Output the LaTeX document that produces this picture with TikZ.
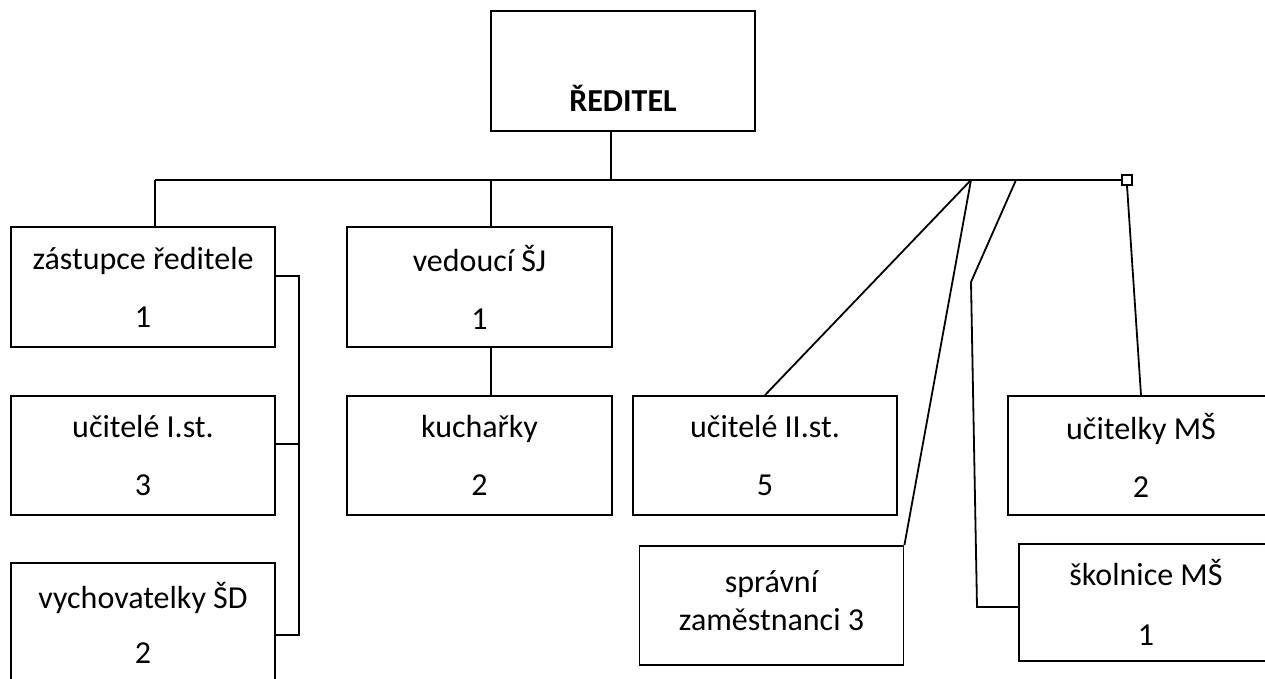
\documentclass[tikz,border=0pt]{standalone}
\usepackage{fontspec}
\setmainfont{Carlito}
\begin{document}
\begin{tikzpicture}[x=1pt,y=-1pt, line width=1.8pt,
  box/.style={draw, inner sep=0pt, minimum width=264pt, minimum height=120pt,
    align=center, font=\fontsize{32}{58}\selectfont}]
\clip (0,0) rectangle (1265,679);
\fill[white] (0,0) rectangle (1265,679);
% boxes
\node[box] (dir) at (623,71) {\mbox{}\\[24pt]\textbf{ŘEDITEL}};
\node[box] (zast) at (143,287) {zástupce ředitele\\1};
\node[box, minimum height=119pt] (ucI) at (143,455.5) {učitelé I.st.\\3};
\node[box, font=\fontsize{32}{55}\selectfont] (vych) at (143,623) {vychovatelky ŠD\\2};
\node[box, minimum width=265pt] (ved) at (479.5,287) {vedoucí ŠJ\\1};
\node[box, minimum width=265pt, minimum height=119pt] (kuch) at (479.5,455.5) {kuchařky\\2};
\node[box, minimum height=119pt] (ucII) at (765,455.5) {učitelé II.st.\\5};
\node[box, minimum height=119pt, font=\fontsize{32}{38}\selectfont] (spr) at (771.5,605.5) {správní\\zaměstnanci 3\\[-28pt]\mbox{}};
\node[box, minimum width=266pt, minimum height=119pt] (ucMS) at (1141,455.5) {učitelky MŠ\\2};
\node[box, minimum width=254pt, minimum height=117pt, font=\fontsize{32}{60}\selectfont] (skol) at (1146,602.5) {školnice MŠ\\1};
\node[draw, line width=1.5pt, minimum size=10pt, inner sep=0pt] (sq) at (1127,180) {};
% junction points
\coordinate (bL) at (155,180);
\coordinate (bV) at (491,180);
\coordinate (bD) at (611,180);
\coordinate (bA) at (971,180);
\coordinate (bB) at (1016,180);
\coordinate (kB) at (971,282);
\coordinate (kC) at (977,607);
\coordinate (r1) at (299,276);
\coordinate (r2) at (299,444);
\coordinate (r3) at (299,635);
% connectors
\draw (bL) -- (sq.west);
\draw (dir.south -| bD) -- (bD);
\draw (bL) -- (zast.north -| bL);
\draw (bV) -- (ved.north -| bV);
\draw (ved.south -| bV) -- (kuch.north -| bV);
\draw (bA) -- (ucII.north);
\draw (bA) -- (spr.north east);
\draw (bB) -- (kB) -- (kC) -- (skol.west |- kC);
\draw (sq.south) -- (ucMS.north);
\draw (zast.east |- r1) -- (r1) -- (r3) -- (vych.east |- r3);
\draw (ucI.east |- r2) -- (r2);
\end{tikzpicture}
\end{document}
